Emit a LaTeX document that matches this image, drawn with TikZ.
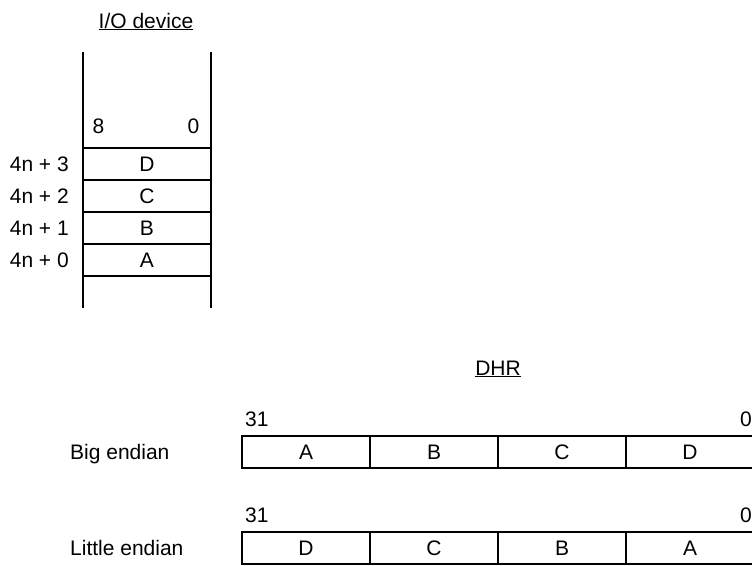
\documentclass[tikz,border=0pt]{standalone}
\usepackage{fontspec}
\setmainfont{Liberation Sans}
\usetikzlibrary{positioning}
\tikzset{
  txt/.style={inner sep=0pt, text height=15pt, text depth=0pt},
  iocell/.style={rectangle, draw, line width=2pt, outer sep=0pt,
    minimum width=128pt, minimum height=32pt, inner sep=0pt,
    text height=15pt, text depth=0pt},
  bytecell/.style={iocell},
  rail/.style={line width=2pt},
  addrlabel/.style={txt, anchor=east},
  sidelabel/.style={txt, anchor=west},
  headlabel/.style={inner sep=0pt, anchor=base},
}
\begin{document}
\begin{tikzpicture}[x=1pt, y=-1pt,
  every node/.style={font=\fontsize{21pt}{25pt}\selectfont}]
\useasboundingbox (0,0) rectangle (752,565);
\clip (0,0) rectangle (752,565);

% I/O device memory column
\node[headlabel] (iotitle) at (146,28) {\underline{I/O device}};
\node[iocell] (iod) at (147,164) {D};
\node[iocell, below=0pt of iod] (ioc) {C};
\node[iocell, below=0pt of ioc] (iob) {B};
\node[iocell, below=0pt of iob] (ioa) {A};

% side rails
\draw[rail] ([yshift=96pt]iod.north west) -- ([yshift=-32pt]ioa.south west);
\draw[rail] ([yshift=96pt]iod.north east) -- ([yshift=-32pt]ioa.south east);

% bit numbers and addresses
\node[txt, above right=14.5pt and 9.5pt of iod.north west] (iomsb) {8};
\node[txt, above left=14.5pt and 11.5pt of iod.north east] (iolsb) {0};
\node[addrlabel, left=14pt of iod] (addr3) {4n + 3};
\node[addrlabel, left=14pt of ioc] (addr2) {4n + 2};
\node[addrlabel, left=14pt of iob] (addr1) {4n + 1};
\node[addrlabel, left=14pt of ioa] (addr0) {4n + 0};

% DHR register
\node[headlabel] (dhrtitle) at (498,375) {\underline{DHR}};

% Big endian
\node[bytecell] (bigA) at (306,452) {A};
\node[bytecell, right=0pt of bigA] (bigB) {B};
\node[bytecell, right=0pt of bigB] (bigC) {C};
\node[bytecell, right=0pt of bigC] (bigD) {D};
\node[txt, above right=9pt and 3pt of bigA.north west] (bigmsb) {31};
\node[txt, anchor=south east] (biglsb) at ([yshift=9pt]bigD.north east -| 752,0) {0};
\node[sidelabel] (biglbl) at (70,452) {Big endian};

% Little endian
\node[bytecell] (litD) at (306,548) {D};
\node[bytecell, right=0pt of litD] (litC) {C};
\node[bytecell, right=0pt of litC] (litB) {B};
\node[bytecell, right=0pt of litB] (litA) {A};
\node[txt, above right=9pt and 3pt of litD.north west] (litmsb) {31};
\node[txt, anchor=south east] (litlsb) at ([yshift=9pt]litA.north east -| 752,0) {0};
\node[sidelabel] (litlbl) at (70,548) {Little endian};

\end{tikzpicture}
\end{document}
